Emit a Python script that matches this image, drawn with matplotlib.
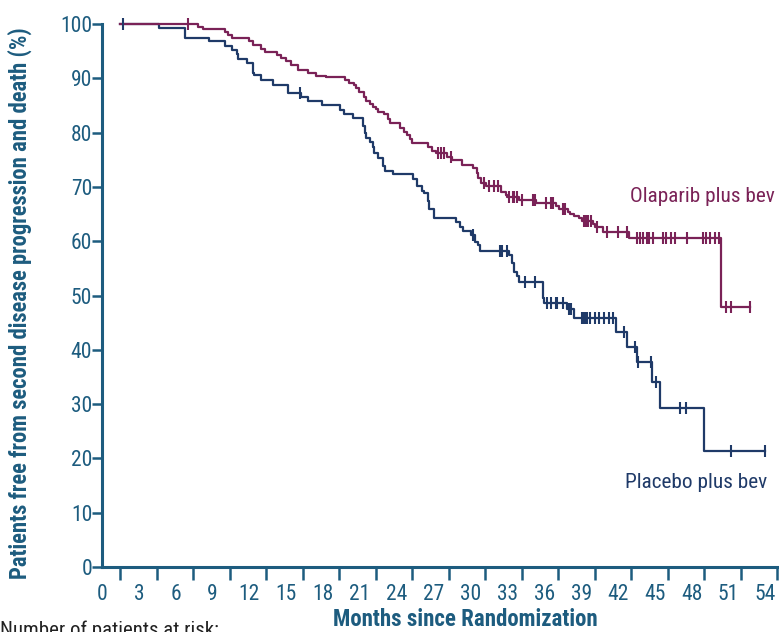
import numpy as np
import matplotlib
matplotlib.use('Agg')
import matplotlib.pyplot as plt

plt.rcParams['font.family'] = ['Roboto Condensed', 'Archivo Narrow', 'Liberation Sans', 'DejaVu Sans']

## Kaplan-Meier steps (months, % free from PFS2 event)
t_ola = [0, 6.4, 6.8, 8.6, 8.9, 9.2, 10.6, 10.9, 11.6, 11.9, 12.9, 13.2, 13.6, 14.0, 14.6,
         15.4, 16.1, 16.9, 18.5, 18.8, 19.2, 19.4, 19.6, 20.05, 20.2, 20.5, 20.8, 21.0,
         21.2, 21.7, 22.0, 22.2, 23.0, 23.3, 23.6, 23.8, 24.0, 25.3, 25.6, 26.0, 26.9,
         27.3, 28.1, 29.0, 29.3, 29.4, 29.7, 30.1, 31.3, 31.7, 31.8, 32.8, 34.2, 35.8,
         36.1, 36.8, 37.0, 37.3, 37.7, 38.0, 38.9, 39.0, 39.7, 41.8, 49.4]
s_ola = [100, 99.4, 99.1, 98.5, 97.9, 97.4, 96.8, 96.1, 95.4, 94.9, 94.3, 93.7, 93.1, 92.4, 91.5,
         90.9, 90.5, 90.2, 89.7, 89.2, 88.8, 88.2, 87.5, 86.6, 85.9, 85.3, 84.7, 84.3,
         83.8, 83.4, 82.5, 81.8, 80.8, 80.2, 79.6, 78.8, 78.0, 77.4, 76.7, 76.2, 75.5,
         74.9, 74.0, 73.4, 72.5, 71.6, 70.8, 70.2, 69.1, 68.5, 68.1, 67.6, 67.0, 66.4,
         65.9, 65.3, 65.0, 64.6, 64.2, 63.8, 63.2, 62.7, 61.7, 60.6, 47.8]
c_ola = [5.6, 26.1, 26.4, 26.6, 27.2, 29.9, 30.3, 30.7, 31.1, 32.0, 32.3, 32.4, 32.6, 33.0,
         33.9, 34.1, 35.0, 35.4, 35.6, 36.4, 36.6, 38.1, 38.3, 38.5, 38.7, 39.2, 40.0, 40.9,
         41.7, 42.5, 42.7, 43.0, 43.3, 43.5, 43.8, 44.6, 44.9, 45.3, 45.6, 46.6, 47.9, 48.2,
         48.5, 48.9, 49.2, 49.8, 50.2, 51.8]

t_pla = [0, 3.2, 5.3, 7.3, 8.6, 9.2, 9.6, 9.7, 10.4, 10.9, 11.0, 11.6, 12.6, 13.8, 14.9,
         15.4, 16.6, 18.05, 18.4, 19.1, 20.0, 20.1, 20.2, 20.5, 20.8, 20.9, 21.2, 21.6,
         21.8, 22.4, 24.1, 24.4, 24.8, 24.95, 25.3, 25.4, 25.8, 27.6, 27.9, 28.2, 28.8,
         29.2, 29.4, 29.6, 32.0, 32.2, 32.4, 32.6, 32.8, 34.8, 34.85, 36.7, 37.3, 40.8,
         41.7, 42.5, 43.7, 44.4, 48.0]
s_pla = [100, 99.3, 97.5, 96.9, 96.0, 95.3, 94.4, 93.6, 92.8, 90.9, 90.6, 89.7, 88.8, 87.3, 86.6,
         85.9, 85.1, 84.2, 83.4, 82.6, 81.3, 79.9, 79.0, 78.3, 77.4, 76.2, 75.3, 73.9,
         73.0, 72.3, 71.4, 70.2, 69.3, 68.8, 67.4, 65.9, 64.2, 63.5, 62.7, 61.9, 61.1,
         59.9, 59.3, 58.2, 57.5, 56.0, 54.3, 53.5, 52.5, 49.5, 48.6, 47.6, 45.9, 43.2,
         40.6, 37.7, 34.0, 29.2, 21.4]
c_pla = [0.2, 14.8, 29.0, 31.2, 31.4, 31.8, 33.3, 34.1, 35.1, 35.4, 35.8, 35.9, 36.4, 36.9,
         37.1, 38.0, 38.1, 38.2, 38.4, 38.6, 39.0, 39.4, 39.8, 40.2, 40.5, 41.4, 42.35, 42.6,
         43.6, 44.05, 46.0, 46.5, 50.2, 53.0]

month_ticks = list(range(0, 55, 3))
pct_ticks = list(range(0, 101, 10))

ola_col = '#7a2257'
pla_col = '#1f3a68'
axis_col = '#1d5c7f'


def km_at(t, s, times):
    idx = np.searchsorted(t, times, side='right') - 1
    return np.asarray(s)[idx]


fig = plt.figure(figsize=(7.79, 6.32), dpi=100)
ax = fig.add_axes([102 / 779, 65 / 632, 675 / 779, 543 / 632])

for t, s, c, col in [(t_pla, s_pla, c_pla, pla_col), (t_ola, s_ola, c_ola, ola_col)]:
    tt = list(t) + [max(c)]
    ss = list(s) + [s[-1]]
    ax.step(tt, ss, where='post', color=col, lw=1.6, clip_on=False, zorder=3)
    ax.plot(c, km_at(t, s, c), ls='none', marker='|', ms=8, mew=1.5, color=col,
            clip_on=False, zorder=4)

ax.set_xlim(0, 54)
ax.set_ylim(0, 100)
for side in ['top', 'right']:
    ax.spines[side].set_visible(False)
for side in ['left', 'bottom']:
    ax.spines[side].set_color(axis_col)
    ax.spines[side].set_linewidth(2.2)

# tick marks on the month grid, labels sit a bit to the left of each mark
ax.set_xticks(month_ticks)
ax.set_xticklabels([])
ax.tick_params(axis='x', which='major', direction='out', length=9, width=1.8, color=axis_col)
ax.set_xticks([m * 1.01 - 1.5 for m in month_ticks], minor=True)
ax.set_xticklabels([str(m) for m in month_ticks], minor=True)
ax.tick_params(axis='x', which='minor', length=0, pad=12, labelsize=15.5, labelcolor=axis_col)

ax.set_yticks(pct_ticks)
ax.set_yticklabels([str(p) for p in pct_ticks])
ax.tick_params(axis='y', direction='out', length=7, width=1.8, pad=0, color=axis_col,
               labelsize=15.5, labelcolor=axis_col)

ax.set_xlabel('Months since Randomization', fontsize=16.5, fontweight='bold', color=axis_col,
              va='center')
ax.xaxis.set_label_coords(363 / 675, -53 / 543)
ax.set_ylabel('Patients free from second disease progression and death (%)', fontsize=16.3,
              fontweight='bold', color=axis_col, va='center')
ax.yaxis.set_label_coords(-82 / 675, 0.486)

ax.text(41.9, 68.3, 'Olaparib plus bev', color=ola_col, fontsize=15.3, va='center',
        ha='left', clip_on=False)
ax.text(41.5, 15.5, 'Placebo plus bev', color=pla_col, fontsize=15.3, va='center',
        ha='left', clip_on=False)

fig.text(0.0, 0.003, 'Number of patients at risk:', color='#222222', fontsize=15,
         ha='left', va='center')

fig.savefig('out.png', dpi=100)
